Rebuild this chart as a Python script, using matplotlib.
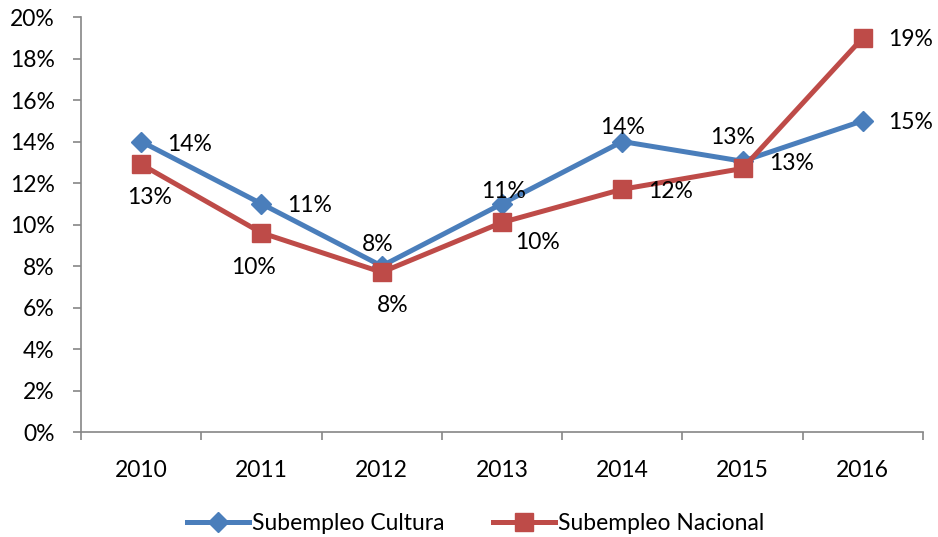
import numpy as np
import matplotlib.pyplot as plt
from matplotlib.ticker import FuncFormatter

years = ["2010", "2011", "2012", "2013", "2014", "2015", "2016"]
cultura = [14.0, 11.0, 8.0, 11.0, 14.0, 13.05, 15.0]
nacional = [12.9, 9.6, 7.7, 10.1, 11.7, 12.7, 19.0]

# label offsets in pixels (dx, dy)
cultura_off = [(48, -3), (48, -2), (-4, 22), (2, 12), (0, 14), (-10, 24), (48, -2)]
nacional_off = [(8, -33), (-8, -35), (11, -33), (35, -20), (48, -2), (49, 5), (48, -2)]

plt.rcParams['font.family'] = ['Lato', 'DejaVu Sans']
fs = 16.5
fig = plt.figure(figsize=(9.38, 5.37), dpi=100)
ax = fig.add_axes([0.0864, 0.1955, 0.8976, 0.7728])

x = np.arange(len(years))
blue = "#4A7EBB"
red = "#BE4B48"

ax.plot(x, cultura, color=blue, lw=3.6, marker="D", ms=10.5,
        mfc=blue, mec=blue, label="Subempleo Cultura", zorder=3)
ax.plot(x, nacional, color=red, lw=3.6, marker="s", ms=12.5,
        mfc=red, mec=red, label="Subempleo Nacional", zorder=4)

for i in range(len(years)):
    ax.annotate("%d%%" % round(cultura[i]), (x[i], cultura[i]),
                xytext=cultura_off[i], textcoords="offset pixels",
                ha="center", va="center", fontsize=fs, zorder=5)
    ax.annotate("%d%%" % round(nacional[i]), (x[i], nacional[i]),
                xytext=nacional_off[i], textcoords="offset pixels",
                ha="center", va="center", fontsize=fs, zorder=5)

ax.set_xlim(-0.5, len(years) - 0.5)
ax.set_ylim(0, 20)
ax.set_yticks(np.arange(0, 21, 2))
ax.yaxis.set_major_formatter(FuncFormatter(lambda v, p: "%d%%" % v))

ax.set_xticks(np.arange(-0.5, len(years), 1.0))
ax.set_xticklabels([])
ax.set_xticks(x, minor=True)
ax.set_xticklabels(years, minor=True)
ax.tick_params(axis="x", which="minor", length=0, pad=20, labelsize=fs)
ax.tick_params(axis="x", which="major", length=6, color="#868686", width=1.2)
ax.tick_params(axis="y", length=6, color="#868686", width=1.2, labelsize=fs, pad=13)

for s in ["top", "right"]:
    ax.spines[s].set_visible(False)
for s in ["left", "bottom"]:
    ax.spines[s].set_color("#868686")
    ax.spines[s].set_linewidth(1.2)

fig.legend(loc="center", bbox_to_anchor=(0.507, 0.026), ncol=2, frameon=False,
           fontsize=fs, handlelength=2.7, columnspacing=2.1, handletextpad=0.13,
           borderpad=0.0)

fig.savefig("out.png", dpi=100)
